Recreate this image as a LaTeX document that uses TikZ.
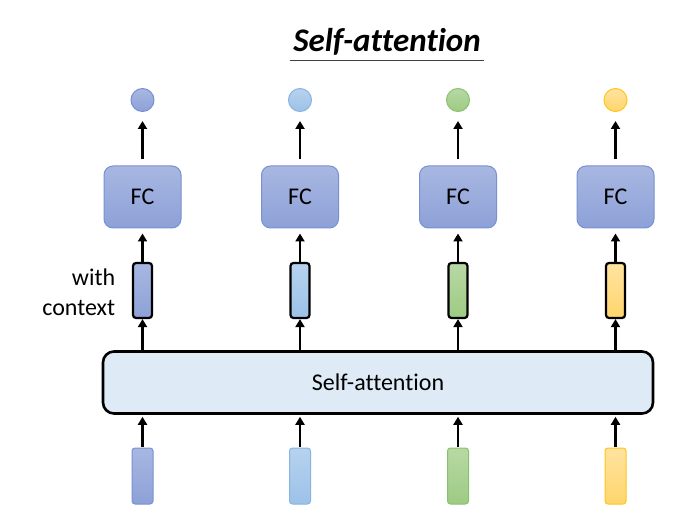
\documentclass[tikz,border=0pt]{standalone}
\usepackage{fontspec}
\setmainfont{Carlito}[Ligatures=NoCommon]
\usetikzlibrary{arrows.meta,positioning}
\tikzset{every picture/.style={line width=0.75pt}}

\definecolor{fctop}{HTML}{A8B7E1}
\definecolor{fcbot}{HTML}{8DA1D8}
\definecolor{fcline}{HTML}{7891D3}
\definecolor{lbtop}{HTML}{B7D2EF}
\definecolor{lbbot}{HTML}{9CC2E7}
\definecolor{lbline}{HTML}{88B3E2}
\definecolor{grtop}{HTML}{B8D8A4}
\definecolor{grbot}{HTML}{9DCB84}
\definecolor{grline}{HTML}{8BC16E}
\definecolor{yetop}{HTML}{FFE3A0}
\definecolor{yebot}{HTML}{FFD56C}
\definecolor{yeline}{HTML}{FFC61A}
\definecolor{safill}{HTML}{DEEAF6}

\begin{document}
\begin{tikzpicture}[x=1pt, y=-1pt,
    txt/.style={font=\fontsize{24}{30}\selectfont},
    arr/.style={-{Triangle[length=8pt,width=9pt]}, line width=2.6pt},
    fcbox/.style={txt, draw=fcline, line width=1pt, rounded corners=9pt,
        top color=fctop, bottom color=fcbot, minimum width=77pt, minimum height=62pt, inner sep=0pt},
    ctxbox/.style={draw=black, line width=2.2pt, rounded corners=3pt,
        minimum width=19pt, minimum height=55pt, inner sep=0pt},
    inbox/.style={line width=1pt, rounded corners=3pt,
        minimum width=21pt, minimum height=56pt, inner sep=0pt},
    outdot/.style={circle, line width=1pt, minimum size=23pt, inner sep=0pt},
]
\useasboundingbox (0,0) rectangle (689,513);

% 标题
\node[font=\fontsize{33}{40}\selectfont\bfseries\itshape] (title) at (387,42) {Self-attention};
\draw[line width=1.5pt, black!75] ([yshift=-9pt]title.base west) -- ([yshift=-9pt]title.base east);

% 自注意力层
\node[txt, draw=black, line width=2.6pt, rounded corners=11pt, fill=safill,
    minimum width=550pt, minimum height=62pt] (sa) at (378,382.5) {Self-attention};

% 各列
\foreach \i/\x/\ct/\cb/\cl in {1/142.5/fctop/fcbot/fcline, 2/300/lbtop/lbbot/lbline,
        3/458/grtop/grbot/grline, 4/615.5/yetop/yebot/yeline} {
    \node[inbox, draw=\cl, top color=\ct, bottom color=\cb] (in\i) at (\x,476) {};
    \node[ctxbox, top color=\ct, bottom color=\cb] (ctx\i) at (\x,290.5) {};
    \node[fcbox] (fc\i) at (\x,197) {FC};
    \node[outdot, draw=\cl, top color=\ct, bottom color=\cb] (out\i) at (\x,100) {};

    \draw[arr, shorten <=1pt, shorten >=2pt] (in\i.north) -- (in\i.north |- sa.south);
    \draw[arr] (sa.north -| ctx\i) -- (ctx\i.south);
    \draw[arr, shorten >=5pt] (ctx\i.north) -- (fc\i.south);
    \draw[arr, shorten <=6pt, shorten >=9pt] (fc\i.north) -- (out\i.south);
}

% 标注
\node[txt, align=right, left=13pt of ctx1, yshift=-2pt] (ctxlab) {with\\context};
\end{tikzpicture}
\end{document}
